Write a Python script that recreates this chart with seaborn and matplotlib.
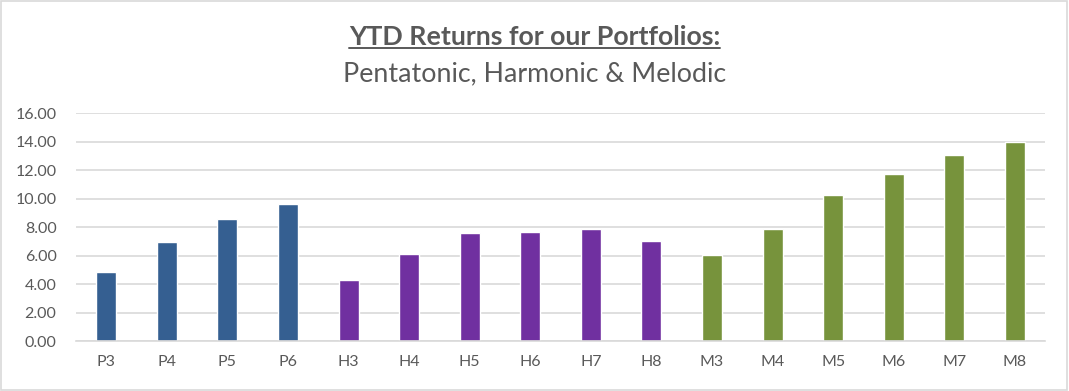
import matplotlib
matplotlib.use("Agg")
import matplotlib.pyplot as plt
import seaborn as sns
import pandas as pd
from matplotlib.lines import Line2D
from matplotlib.patches import Rectangle

categories = ["P3", "P4", "P5", "P6", "H3", "H4", "H5", "H6", "H7", "H8",
              "M3", "M4", "M5", "M6", "M7", "M8"]
groups = ["Pentatonic"] * 4 + ["Harmonic"] * 6 + ["Melodic"] * 6
returns = [4.88, 6.99, 8.60, 9.66, 4.32, 6.15, 7.62, 7.69, 7.90, 7.06,
           6.08, 7.90, 10.29, 11.76, 13.09, 14.02]
yticks = [0, 2, 4, 6, 8, 10, 12, 14, 16]

colors = {"Pentatonic": "#355F91", "Harmonic": "#7030A0", "Melodic": "#77933C"}

df = pd.DataFrame({"cat": categories, "group": groups, "ret": returns})

sns.set_theme(style="white")
plt.rcParams["font.family"] = ["Lato", "DejaVu Sans"]

fig = plt.figure(figsize=(10.69, 3.91), dpi=100)
ax = fig.add_axes([0.0711, 0.127, 0.9065, 0.583])

sns.barplot(data=df, x="cat", y="ret", hue="group", palette=colors,
            dodge=False, width=0.33, legend=False, ax=ax, saturation=1)

ax.set_ylim(0, 16)
ax.set_xlim(-0.5, len(categories) - 0.5)
ax.set_yticks(yticks)
ax.set_yticklabels([f"{v:.2f}" for v in yticks])
ax.yaxis.grid(True, color="#D9D9D9", linewidth=1.2)
ax.set_axisbelow(True)
for s in ["top", "right", "left"]:
    ax.spines[s].set_visible(False)
ax.spines["bottom"].set_color("#D9D9D9")
ax.spines["bottom"].set_linewidth(1.2)
ax.set_xlabel("")
ax.set_ylabel("")
ax.tick_params(axis="y", length=0, labelsize=11.5, labelcolor="#595959", pad=14)
ax.tick_params(axis="x", which="major", length=0, labelsize=11.5, labelcolor="#595959", pad=10)
ax.set_xticks([i - 0.5 for i in range(len(categories) + 1)], minor=True)
ax.tick_params(axis="x", which="minor", length=5, width=1.2, color="#D9D9D9")

# titles
t1 = fig.text(0.5, 0.905, "YTD Returns for our Portfolios:", ha="center", va="center",
              fontsize=19.3, fontweight="bold", color="#595959")
fig.text(0.5, 0.812, "Pentatonic, Harmonic & Melodic", ha="center", va="center",
         fontsize=19.3, color="#595959")
fig.canvas.draw()
bb = t1.get_window_extent().transformed(fig.transFigure.inverted())
fig.add_artist(Line2D([bb.x0, bb.x1], [bb.y0 + 0.003, bb.y0 + 0.003],
                      transform=fig.transFigure, color="#595959", linewidth=1.4))

# chart border
fig.add_artist(Rectangle((0.001, 0.002), 0.997, 0.995, transform=fig.transFigure,
                         fill=False, edgecolor="#D9D9D9", linewidth=1.2))

fig.savefig("out.png", dpi=100, facecolor="white")
